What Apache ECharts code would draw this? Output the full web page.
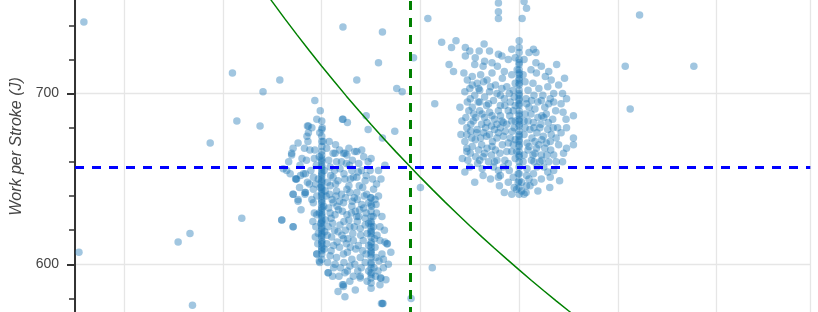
<!DOCTYPE html>
<html>
<head>
<meta charset="utf-8">
<script src="https://cdn.jsdelivr.net/npm/echarts@6/dist/echarts.min.js"></script>
<style>html,body{margin:0;padding:0;background:#fff;overflow:hidden;width:818px;height:312px;position:relative}#chart{position:absolute;left:0;top:-142px;width:818px;height:600px}</style>
</head>
<body>
<div id="chart"></div>
<script>
// ---- data (stroke rate [spm], work per stroke [J]) ----
const outliers = [
  [15.18,742],[18.19,712],[18.81,701],[18.28,684],[18.75,681],[19.15,708],[17.74,671],
  [15.08,607],[17.33,618],[17.09,613],[18.38,627],[19.19,626],[19.42,622],[17.38,576],
  [19.42,641],[19.52,638],[19.67,642],[19.71,648],[19.48,650],[19.57,652],[19.67,653],[19.29,655],
  [20.43,739],[21.23,736],[21.15,718],[20.71,708],[21.52,703],[21.63,701],[22.15,744],
  [21.86,721],[22.29,694],[20.43,685],[21.23,674],[22.00,645],[22.24,598],[21.23,577],
  [21.81,580],[20.47,581],[21.19,592],[20.44,587],[26.44,746],[26.15,716],[27.54,716],[26.25,691]
];
const lowCluster = [
  [19.86,696],[20.42,685],[20.52,683],[20.90,687],[20.94,679],[21.48,678],[19.71,681],[19.80,680],
  [20.01,680],[19.96,677],[19.73,677],[20.03,672],[19.42,668],[19.52,671],[19.72,672],[19.76,667],
  [19.86,667],[19.39,665],[20.23,665],[20.44,665],[20.51,664],[20.71,666],[20.81,667],[20.94,660],
  [21.28,658],[19.22,656],[19.56,658],[19.69,661],[20.30,660],[20.17,657],[20.37,656],[20.61,655],
  [20.81,655],[20.98,655],[19.63,653],[19.36,653],[19.49,650],[19.83,651],[20.23,651],[20.47,650],
  [20.71,651],[20.88,649],[21.11,647],[19.42,641],[19.66,641],[19.52,637],[19.83,644],[20.17,646],
  [20.30,643],[20.51,644],[20.71,642],[20.91,641],[21.08,638],[19.83,636],[20.23,636],[20.44,636],
  [20.61,634],[20.81,635],[21.01,634],[19.19,626],[19.42,622],[19.90,629],[20.17,630],[20.34,632],
  [20.51,629],[20.71,628],[20.88,627],[21.11,630],[20.13,622],[20.37,623],[20.57,622],[20.78,621],
  [21.18,622],[19.93,618],[20.20,616],[20.44,615],[20.64,614],[20.84,614],[21.18,614],[21.32,612],
  [19.90,606],[20.17,605],[20.27,600],[20.44,606],[20.61,603],[20.78,604],[20.57,599],[20.13,595],
  [20.47,595],[20.78,592],[20.57,590],[20.44,588],[21.25,598],[21.21,577],[19.96,601],
  [20.12,648],[20.28,647],[20.40,641],[20.55,646],[20.66,639],[20.83,645],[20.95,636],
  [20.09,640],[20.21,638],[20.36,637],[20.62,637],[20.77,632],[20.90,630],
  [20.14,633],[20.27,629],[20.42,631],[20.55,626],[20.68,631],[20.95,624],
  [20.08,626],[20.22,624],[20.33,619],[20.48,620],[20.63,618],[20.72,625],[20.92,618],
  [20.10,612],[20.24,611],[20.36,610],[20.50,612],[20.69,609],[20.83,608],[20.95,611],
  [20.06,619],[20.30,604],[20.52,607],[20.67,600],[20.88,601],[21.10,604],[21.14,596],[21.22,606],
  [21.30,591],[20.95,596],[20.73,596],[20.38,598],[20.22,593],
  [19.92,612],[19.88,622],[19.90,640],[19.93,650],[19.89,658],[19.95,663],[20.10,668],[20.14,661],
  [20.26,655],[20.40,660],[20.56,658],[20.64,651],[20.76,646],[21.05,644],[21.15,640],[21.04,628],
  [21.12,617],[21.08,610],[21.16,602],[19.97,645],[19.95,630],[19.98,624],
  [19.73,681],[19.39,664],[19.47,650],[19.66,642],[20.27,665],[20.47,665],[20.67,666],
  [20.13,595],[21.24,577],[20.42,588],[20.78,593],[21.20,592],[21.28,613],[21.33,612],[19.90,606],[19.95,602],
  [20.05,655],[20.18,652],[20.33,649],[20.45,653],[20.58,650],[20.74,654],[20.90,652],[21.03,650],
  [20.07,643],[20.16,641],[20.29,640],[20.48,639],[20.57,642],[20.72,638],[20.86,640],[20.99,639],
  [20.04,634],[20.19,627],[20.31,634],[20.45,625],[20.60,630],[20.75,628],[20.85,633],[21.05,622],
  [20.11,617],[20.26,620],[20.41,617],[20.53,615],[20.66,622],[20.79,617],[20.88,623],[21.07,615],
  [20.05,609],[20.19,608],[20.31,613],[20.45,601],[20.58,610],[20.74,611],[20.90,606],[21.06,598],
  [20.12,601],[20.24,598],[20.35,593],[20.52,596],[20.64,593],[20.80,598],[20.92,590],[21.09,593],
  [19.85,662],[19.78,655],[19.88,647],[19.80,638],[19.85,630],[19.87,616],[19.82,625],[19.75,647],
  [19.60,662],[19.65,668],[19.55,645],[19.58,632],[19.33,660],[19.70,675],[19.90,685],[19.97,690],
  [20.15,672],[20.28,670],[20.36,667],[20.55,668],[20.62,661],[20.50,659],[20.75,659],[20.85,663],
  [21.00,662],[21.15,655],[21.20,650],[21.10,635],[21.22,628],[21.27,620],[21.25,603],[21.35,600],
  [21.40,607],[21.18,588],[20.68,585],[20.33,584]
];
const col20Work = [684,679,675,672,669,666,664,662,660,658,656,654,652,650,648,646,644,642,640,638,636,634,
  632,630,628,626,624,622,620,618,616,614,612,610,608,606,661,657,653,649,645,641,637,633,629,625,621,617,613,609,603];
const col21Work = [639,635,631,628,625,622,619,616,613,610,607,604,601,598,595,592,589,586,624,618,612,606,600,594,620,608];
const highCluster = [
  [23.58,753],[23.58,748],[23.58,744],[24.10,754],[24.15,750],[24.06,744],
  [22.43,730],[22.72,731],[22.63,727],[23.29,729],[22.91,727],[23.00,725],[23.19,725],[23.58,723],
  [24.29,726],[24.34,724],[22.91,722],[23.11,721],[22.58,717],[22.67,713],[23.10,717],[23.27,716],
  [23.56,716],[23.78,720],[23.92,721],[24.10,720],[24.34,718],[24.76,717],[24.92,709],[24.53,710],
  [24.24,714],[24.35,712],
  [22.84,684],[22.94,680],[23.01,697],[23.17,695],[23.34,693],[23.48,696],[23.58,690],[23.71,693],
  [23.81,687],[23.68,683],[23.44,681],[23.24,682],[23.07,684],[22.94,676],[23.11,673],[23.24,670],
  [23.34,675],[23.55,674],[23.68,675],[23.78,671],[22.94,668],[23.01,665],[23.27,663],[23.44,664],
  [23.61,665],[23.71,661],
  [24.25,696],[24.32,691],[24.46,687],[24.29,683],[24.42,680],[24.59,683],[24.69,680],[24.49,675],
  [24.32,672],[24.63,672],[24.52,668],[24.32,665],[24.25,661],[24.42,660],[24.56,664],[24.63,697],
  [24.96,697],[24.89,689],[25.10,687],[24.96,680],[25.10,674],[25.10,670],[24.96,668],
  [24.63,651],[24.29,653],[24.15,652],[23.98,653],[23.98,648],[24.05,643],[24.15,646],[24.14,642],
  [23.95,644],[23.78,648],[23.58,651],[23.58,655],[23.27,652],[22.90,654],[23.78,659],[23.48,657],[22.94,666],
  [22.88,712],[22.95,708],[23.05,710],[23.15,706],[23.22,711],[23.35,708],[23.45,712],[23.52,705],
  [23.66,709],[23.75,704],[23.85,711],[23.88,702],[24.12,707],[24.18,702],[24.28,706],[24.40,703],
  [24.48,699],[24.58,704],[24.70,700],[24.80,705],[24.85,694],
  [22.90,701],[23.00,703],[23.10,699],[23.20,702],[23.30,698],[23.40,701],[23.62,699],[23.70,697],
  [23.82,695],[23.90,698],[24.14,697],[24.20,692],[24.38,695],[24.52,692],[24.74,690],
  [22.98,690],[23.08,688],[23.20,690],[23.30,686],[23.40,689],[23.50,685],[23.62,687],[23.75,682],
  [23.88,690],[23.92,684],[24.12,688],[24.18,684],[24.38,686],[24.55,688],[24.65,676],[24.78,680],
  [24.80,670],[24.70,664],[24.88,660],[24.60,660],
  [23.02,678],[23.15,679],[23.28,677],[23.40,676],[23.50,679],[23.62,680],[23.86,678],[23.92,673],
  [24.10,676],[24.16,671],[24.22,679],[24.40,670],[24.45,664],
  [23.05,669],[23.18,667],[23.35,668],[23.52,667],[23.66,670],[23.85,666],[23.92,662],[24.10,664],
  [24.18,667],[24.36,657],[24.50,657],[24.70,655],[24.82,649],[24.62,645],[24.38,643],[24.22,646],
  [24.10,641],[23.90,645],[23.80,655],[23.68,657],[23.38,660],[23.16,659],[22.96,661],[23.10,648],
  [23.42,650],[23.60,646],[23.70,642],[23.85,641],[24.30,648],[24.45,650],
  [22.95,695],[23.05,692],[23.12,686],[23.25,688],[23.35,683],[23.45,687],[23.55,682],[23.65,684],
  [23.78,690],[23.85,684],[22.92,686],[23.02,682],[23.14,677],[23.22,674],[23.32,680],[23.46,672],
  [23.58,677],[23.72,678],[23.82,674],[23.90,680],[22.90,672],[23.04,674],[23.12,663],[23.20,661],
  [23.30,665],[23.45,669],[23.55,661],[23.75,666],[23.88,670],[23.95,666],[23.05,705],[23.18,703],
  [23.28,707],[23.42,704],[23.55,700],[23.65,703],[23.80,700],[23.92,706],[23.96,714],[23.70,713],
  [24.08,711],[24.15,694],[24.24,688],[24.30,680],[24.26,674],[24.36,677],[24.44,682],[24.50,686],
  [24.58,679],[24.68,685],[24.10,684],[24.12,680],[24.20,669],[24.28,664],[24.35,668],[24.46,673],
  [24.55,671],[24.64,667],[24.75,674],[24.85,677],[24.08,660],[24.16,656],[24.30,660],[24.46,661],
  [24.58,654],[24.75,660],[24.90,665],[24.95,685],[24.88,700],[24.65,708],[23.20,695],[23.38,694],
  [23.62,693],[23.92,693],[24.30,699],[24.45,696],[24.60,694],[24.70,695],[23.30,719],[23.45,718],
  [23.65,722],[23.85,726],[24.20,724],[24.45,716],[24.60,713],[23.40,725],[22.80,692],[22.82,676],
  [22.85,662],[23.00,657],[23.25,656],[23.50,660],[23.62,652],[23.88,651],[24.20,650],[24.05,648]
];
const col24Work = [731,727,724,720,717,714,711,708,705,702,699,696,693,690,687,684,681,678,675,672,669,666,
  663,660,657,653,649,645,641,718,712,706,700,694,688,682,676,670,664,709,697,685,673];
// constant-power curve, points
const curveRate = [18.75,19.0,19.25,19.5,19.75,20.0,20.25,20.5,20.75,21.0,21.25,21.5,21.75,22.0,
  22.25,22.5,22.75,23.0,23.25,23.5,23.75,24.0,24.25,24.5,24.75,25.0,25.25,25.5];
const curveWork = [763.7,753.7,743.9,734.4,725.1,716.0,707.2,698.5,690.1,681.9,673.9,666.0,658.4,650.9,
  643.6,636.4,629.5,622.6,615.9,609.4,603.0,596.7,590.5,584.5,578.6,572.8,567.1,561.6];
const meanRate = 21.8;
const meanWork = 657;
const yTicks = {min: 500, max: 838, step: 100};

// ---- build ----
const points = []
  .concat(outliers, lowCluster, highCluster)
  .concat(col20Work.map(w => [20, w]))
  .concat(col21Work.map(w => [21, w]))
  .concat(col24Work.map(w => [24, w]));
const curve = curveRate.map((r, i) => [r, curveWork[i]]);

const chart = echarts.init(document.getElementById('chart'), null, {renderer: 'canvas'});
chart.setOption({
  animation: false,
  grid: {left: 75, width: 735.3, top: 0, height: 577, containLabel: false, outerBoundsMode: 'none'},
  xAxis: {
    type: 'value', min: 15, max: 29.9, splitNumber: 7,
    axisLine: {show: false}, axisTick: {show: false}, axisLabel: {show: false},
    splitLine: {show: true, lineStyle: {color: '#e6e6e6', width: 1.3}}
  },
  yAxis: {
    type: 'value', min: yTicks.min, max: yTicks.max, interval: yTicks.step,
    name: 'Work per Stroke (J)', nameLocation: 'middle', nameGap: 48,
    nameTextStyle: {fontStyle: 'italic', fontSize: 16, color: '#444', fontFamily: 'Liberation Sans'},
    axisLine: {show: true, lineStyle: {color: '#333', width: 2}},
    axisTick: {show: true, length: 8, lineStyle: {color: '#333', width: 2}},
    minorTick: {show: true, splitNumber: 5, length: 6, lineStyle: {color: '#333', width: 1.5}},
    axisLabel: {margin: 16, fontSize: 14, color: '#444', fontFamily: 'Liberation Sans', showMaxLabel: false},
    splitLine: {show: true, lineStyle: {color: '#e6e6e6', width: 1.3}}
  },
  series: [
    {
      type: 'scatter', data: points, symbolSize: 7.5, silent: true,
      itemStyle: {color: '#1f77b4', opacity: 0.42}
    },
    {
      type: 'line', data: curve, smooth: false, showSymbol: false, silent: true,
      lineStyle: {color: '#008000', width: 1.5},
      markLine: {
        silent: true, symbol: ['none', 'none'], label: {show: false},
        data: [
          {yAxis: meanWork, lineStyle: {color: '#0000ff', width: 3, type: [9, 8]}},
          {xAxis: meanRate, lineStyle: {color: '#008000', width: 3, type: [9, 8]}}
        ]
      }
    }
  ]
});
</script>
</body>
</html>
